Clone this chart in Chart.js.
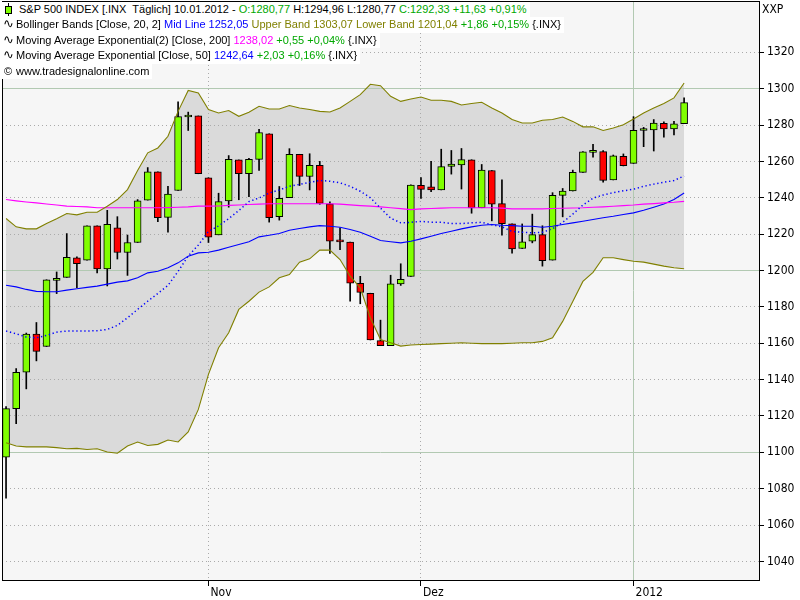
<!DOCTYPE html>
<html>
<head>
<meta charset="utf-8">
<script src="https://cdn.jsdelivr.net/npm/chart.js@4.4.1/dist/chart.umd.min.js"></script>
<style>
html,body{margin:0;padding:0;background:#fff;}
#wrap{position:relative;width:800px;height:600px;overflow:hidden;}
#c{position:absolute;left:0;top:0;background:#f6f6f6;}
#legend{position:absolute;left:2px;top:2px;font-family:"Liberation Sans",Arial,sans-serif;font-size:11px;color:#000;}
#legend .ln{position:relative;width:max-content;background:#fff;height:15.4px;line-height:15.4px;white-space:pre;padding-left:14px;padding-right:3px;}
#legend .ln.first{padding-left:17px;}
#legend .wave{position:absolute;left:1px;top:-1px;font-family:"DejaVu Sans",sans-serif;font-size:13px;}
#legend .copy{position:absolute;left:2px;top:0;}
#legend .wick{position:absolute;left:6px;top:1px;width:1px;height:13px;background:#000;}
#legend .body{position:absolute;left:3px;top:4px;width:5px;height:6px;background:#80ff00;border:1px solid #000;}
.g{color:#00a800;} .b{color:#0000ff;} .o{color:#808000;} .m{color:#ff00ff;}
#xxp{position:absolute;left:762px;top:2px;font-family:"Liberation Sans Narrow","DejaVu Sans Condensed",Arial,sans-serif;font-size:12px;color:#000;}
</style>
</head>
<body>
<div id="wrap">
<canvas id="c" width="800" height="600"></canvas>
<div id="legend">
<div class="ln first"><span class="wick"></span><span class="body"></span>S&amp;P 500 INDEX [.INX  Täglich] 10.01.2012 - <span class="g">O:1280,77</span> H:1294,96 L:1280,77 <span class="g">C:1292,33 +11,63 +0,91%</span></div>
<div class="ln"><span class="wave">∿</span>Bollinger Bands [Close, 20, 2] <span class="b">Mid Line 1252,05</span> <span class="o">Upper Band 1303,07 Lower Band 1201,04</span> <span class="g">+1,86 +0,15%</span> {.INX}</div>
<div class="ln"><span class="wave">∿</span>Moving Average Exponential(2) [Close, 200] <span class="m">1238,02</span> <span class="g">+0,55 +0,04%</span> {.INX}</div>
<div class="ln"><span class="wave">∿</span>Moving Average Exponential [Close, 50] <span class="b">1242,64</span> <span class="g">+2,03 +0,16%</span> {.INX}</div>
<div class="ln"><span class="copy">©</span>www.tradesignalonline.com</div>
</div>
<div id="xxp">XXP</div>
</div>
<script>
// ---- data ----
const dates = [
 "04.10.2011","05.10.2011","06.10.2011","07.10.2011","10.10.2011","11.10.2011","12.10.2011","13.10.2011","14.10.2011","17.10.2011",
 "18.10.2011","19.10.2011","20.10.2011","21.10.2011","24.10.2011","25.10.2011","26.10.2011","27.10.2011","28.10.2011","31.10.2011",
 "01.11.2011","02.11.2011","03.11.2011","04.11.2011","07.11.2011","08.11.2011","09.11.2011","10.11.2011","11.11.2011","14.11.2011",
 "15.11.2011","16.11.2011","17.11.2011","18.11.2011","21.11.2011","22.11.2011","23.11.2011","25.11.2011","28.11.2011","29.11.2011",
 "30.11.2011","01.12.2011","02.12.2011","05.12.2011","06.12.2011","07.12.2011","08.12.2011","09.12.2011","12.12.2011","13.12.2011",
 "14.12.2011","15.12.2011","16.12.2011","19.12.2011","20.12.2011","21.12.2011","22.12.2011","23.12.2011","27.12.2011","28.12.2011",
 "29.12.2011","30.12.2011","03.01.2012","04.01.2012","05.01.2012","06.01.2012","09.01.2012","10.01.2012"
];
const opens = [1097.4,1124.0,1144.1,1165.0,1158.2,1194.6,1196.2,1206.9,1205.7,1224.5,
 1200.8,1223.5,1209.9,1215.4,1238.7,1254.2,1229.2,1244.0,1284.4,1285.0,
 1251.0,1219.6,1238.2,1260.8,1253.2,1261.1,1275.2,1229.6,1240.1,1263.9,
 1251.7,1257.8,1236.6,1216.2,1215.6,1193.0,1187.5,1161.4,1158.7,1192.6,
 1196.7,1246.9,1246.0,1244.3,1257.2,1258.1,1260.9,1234.5,1255.0,1236.8,
 1225.7,1212.1,1216.1,1219.7,1205.7,1241.3,1243.7,1254.0,1265.0,1265.4,
 1249.8,1262.8,1258.9,1277.0,1277.3,1280.9,1277.8,1280.8];
const highs = [1125.1,1146.1,1165.6,1171.4,1194.9,1199.2,1220.3,1207.5,1224.6,1224.6,
 1233.1,1229.6,1219.5,1239.0,1256.6,1254.2,1246.3,1292.7,1287.1,1285.0,
 1251.0,1242.5,1263.2,1260.8,1261.7,1277.6,1275.2,1246.2,1267.0,1263.9,
 1264.2,1260.0,1237.7,1223.5,1215.6,1196.8,1187.5,1172.7,1197.4,1203.7,
 1247.1,1251.1,1260.1,1266.7,1266.0,1267.1,1260.9,1258.3,1255.0,1249.9,
 1225.7,1225.6,1231.0,1224.6,1242.8,1245.1,1255.2,1265.4,1269.4,1265.9,
 1263.5,1264.1,1284.6,1278.7,1283.0,1281.8,1282.0,1295.0];
const lows = [1074.8,1115.7,1134.9,1150.3,1158.2,1187.3,1196.2,1190.6,1205.7,1198.6,
 1191.5,1206.3,1197.3,1215.4,1238.7,1226.8,1221.1,1244.0,1277.0,1253.2,
 1215.4,1219.6,1234.8,1238.9,1240.6,1255.0,1226.6,1227.7,1240.1,1246.7,
 1244.3,1236.4,1209.4,1211.4,1183.2,1181.7,1161.8,1158.7,1158.7,1191.8,
 1196.7,1239.7,1243.4,1244.3,1253.0,1244.8,1231.5,1234.5,1227.3,1219.4,
 1209.5,1212.1,1215.2,1202.4,1205.7,1229.5,1243.7,1254.0,1262.3,1248.6,
 1249.8,1257.5,1258.9,1268.1,1265.7,1273.3,1274.6,1280.8];
const closes = [1124.0,1144.0,1165.0,1155.5,1194.9,1195.5,1207.3,1203.7,1224.6,1200.9,
 1225.4,1209.9,1215.4,1238.3,1254.2,1229.1,1242.0,1284.6,1285.1,1253.3,
 1218.3,1237.9,1261.2,1253.2,1261.1,1275.9,1229.1,1239.7,1263.9,1251.8,
 1257.8,1236.9,1216.1,1215.7,1193.0,1188.0,1161.8,1158.7,1192.6,1195.2,
 1247.0,1244.6,1244.3,1257.1,1258.5,1261.0,1234.4,1255.2,1236.5,1225.7,
 1211.8,1215.8,1219.7,1205.4,1241.3,1243.7,1254.0,1265.3,1265.4,1249.6,
 1263.0,1257.6,1277.1,1277.3,1281.1,1277.8,1280.7,1292.3];
const bbUpper = [1228.6,1224.0,1222.9,1222.9,1225.8,1228.4,1231.3,1230.6,1232.0,1232.0,
 1235.3,1239.0,1244.5,1255.0,1264.7,1267.4,1273.8,1287.5,1299.0,1297.6,
 1288.5,1286.6,1288.0,1284.8,1287.0,1290.3,1288.8,1288.8,1290.7,1289.4,
 1288.5,1287.5,1287.2,1289.4,1293.0,1296.7,1302.4,1301.6,1295.8,1293.0,
 1294.3,1295.4,1293.6,1293.6,1293.0,1291.0,1291.8,1292.5,1289.4,1286.6,
 1283.0,1281.1,1281.1,1282.6,1283.0,1284.4,1282.0,1279.0,1279.0,1277.0,
 1278.4,1280.2,1283.3,1286.6,1289.4,1291.8,1294.9,1303.1];
const bbLower = [1105.3,1103.5,1103.0,1103.0,1103.0,1102.6,1102.0,1102.2,1101.6,1102.0,
 1100.2,1099.5,1103.5,1105.7,1103.8,1104.4,1106.8,1105.7,1111.2,1123.6,
 1142.9,1157.5,1165.8,1178.6,1183.1,1188.1,1191.0,1196.0,1197.8,1204.6,
 1206.4,1211.2,1211.2,1206.0,1196.9,1190.5,1174.0,1162.0,1160.3,1158.4,
 1159.0,1159.3,1159.5,1159.8,1160.0,1160.3,1160.0,1159.8,1159.8,1159.8,
 1160.0,1160.3,1160.3,1161.0,1163.0,1172.0,1183.0,1194.0,1199.0,1207.0,
 1207.0,1206.0,1205.1,1204.6,1203.5,1202.4,1201.5,1201.0];
const bbMid = [1166.7,1165.2,1163.4,1163.0,1164.3,1166.1,1166.7,1166.7,1166.7,1166.9,
 1167.6,1169.8,1174.0,1178.6,1183.1,1187.4,1191.8,1199.5,1208.0,1214.0,
 1221.5,1224.5,1228.5,1233.0,1237.9,1239.9,1242.6,1244.3,1246.3,1247.3,
 1248.5,1249.5,1249.1,1248.2,1246.3,1243.6,1240.0,1234.3,1228.8,1226.2,
 1226.5,1227.0,1226.6,1226.6,1225.8,1225.8,1226.2,1226.5,1225.2,1224.0,
 1221.5,1221.0,1220.7,1221.0,1223.0,1226.5,1231.0,1236.0,1239.8,1241.5,
 1242.8,1243.8,1244.7,1246.3,1247.5,1248.5,1249.5,1252.0];
const ema200 = [1239.0,1238.3,1237.7,1237.2,1236.6,1236.0,1235.4,1235.2,1235.0,1234.5,
 1234.5,1234.5,1234.5,1234.5,1234.5,1234.5,1234.6,1234.8,1235.0,1235.4,
 1235.4,1235.5,1235.8,1236.0,1236.3,1236.5,1236.7,1236.7,1236.7,1236.7,
 1236.7,1236.7,1236.7,1236.5,1236.1,1235.7,1235.4,1235.0,1234.5,1234.0,
 1233.5,1233.9,1234.1,1234.3,1234.5,1234.5,1234.5,1234.5,1234.5,1234.3,
 1233.9,1233.9,1233.9,1233.9,1234.1,1234.2,1234.4,1234.5,1234.8,1235.0,
 1235.3,1235.7,1236.0,1236.5,1236.8,1237.2,1237.5,1238.0];
const ema50 = [1191.9,1191.0,1189.6,1188.5,1188.3,1188.3,1189.2,1190.0,1190.7,1191.4,
 1192.5,1193.6,1194.3,1196.0,1198.7,1199.6,1201.5,1204.2,1207.9,1209.7,
 1210.0,1211.2,1212.8,1214.3,1215.8,1218.5,1219.4,1220.3,1222.1,1223.1,
 1224.0,1224.7,1224.3,1223.8,1222.5,1221.0,1218.8,1216.5,1215.8,1215.2,
 1216.1,1217.4,1218.8,1220.3,1221.6,1222.9,1224.0,1224.9,1225.3,1224.9,
 1224.7,1224.3,1224.3,1223.8,1224.3,1225.3,1226.2,1227.1,1228.0,1229.0,
 1229.8,1230.8,1231.7,1233.1,1234.8,1236.6,1239.0,1242.6];
const yTicks = [1040,1060,1080,1100,1120,1140,1160,1180,1200,1220,1240,1260,1280,1300,1320];
const yMajor = [1100,1200,1300];
const monthTickIdx = [20,41,62];
const monthLabels = ["Nov","Dez","2012"];
const yearTickIdx = 62;

// ---- chart ----
const pts = arr => arr.map((v,i)=>({x:i,y:v}));
const bodies = opens.map((o,i)=>({x:i,y:[o,closes[i]]}));
const wicks = lows.map((l,i)=>({x:i,y:[l,highs[i]]}));
const tickFont = {family:'"Liberation Sans Narrow","DejaVu Sans Condensed",Arial,sans-serif', size:12};
const gridGreen = '#b2c9b2', gridDot = '#aaaaaa';

const outsideWhite = {
  id:'outsideWhite',
  beforeDraw(chart){
    const {ctx, chartArea:a, width, height} = chart;
    ctx.save(); ctx.fillStyle = '#fff';
    ctx.fillRect(a.right,0,width-a.right,height);
    ctx.fillRect(0,a.bottom,width,height-a.bottom);
    ctx.fillRect(0,0,a.left,height);
    ctx.fillRect(0,0,width,a.top);
    ctx.restore();
  }
};
const noPad = s => { s.paddingTop = 0; s.paddingBottom = 0; s.paddingLeft = 0; s.paddingRight = 0; };
const lineDs = (label,data,color,extra) => Object.assign({type:'line',label,data:pts(data),borderColor:color,borderWidth:1.1,pointRadius:0,fill:false,tension:0,order:0},extra||{});

new Chart(document.getElementById('c'), {
  type:'line',
  data:{datasets:[
    lineDs('Upper Band', bbUpper, '#808000', {fill:'+1', backgroundColor:'#dadada'}),
    lineDs('Lower Band', bbLower, '#808000'),
    lineDs('Mid Line', bbMid, '#0000ff', {borderWidth:1.5, borderDash:[1.3,2.7]}),
    lineDs('EMA 200', ema200, '#ff00ff'),
    lineDs('EMA 50', ema50, '#0000ff'),
    {type:'bar', label:'body', data:bodies,
     backgroundColor: c => closes[c.dataIndex] >= opens[c.dataIndex] ? '#80ff00' : '#ff0000',
     borderColor:'#000', borderWidth:1, borderSkipped:false, barThickness:7, grouped:false, minBarLength:2, order:1},
    {type:'bar', label:'wick', data:wicks, backgroundColor:'#000', borderWidth:0, barThickness:1, grouped:false, order:2}
  ]},
  options:{
    responsive:false, animation:false, events:[],
    layout:{padding:0},
    plugins:{legend:{display:false}, tooltip:{enabled:false}, filler:{drawTime:'beforeDraw', propagate:false}},
    scales:{
      x:{type:'linear', position:'bottom', min:-0.4, max:74.4, offset:false,
        afterBuildTicks: s => { s.ticks = monthTickIdx.map(v=>({value:v})); },
        afterFit: s => { s.height = 20; noPad(s); },
        ticks:{autoSkip:false, maxRotation:0, align:'start', padding:0, labelOffset:2, font:tickFont, color:'#000',
          callback: v => monthLabels[monthTickIdx.indexOf(v)]},
        grid:{offset:false, lineWidth:1, color: c => (c.tick && c.tick.value===yearTickIdx) ? gridGreen : gridDot,
          drawTicks:true, tickLength:6, tickColor:'#000', tickWidth:1},
        border:{display:true, color:'#000', width:1, dash: c => (c.tick && c.tick.value===yearTickIdx) ? [] : [1,3]}
      },
      xT:{type:'linear', position:'top', min:0, max:1, afterFit: s => { s.height = 1; noPad(s); },
        ticks:{display:false}, grid:{display:false, drawTicks:false}, border:{display:true, color:'#000', width:1}},
      y:{type:'linear', position:'right', min:1029.8, max:1348.2,
        afterBuildTicks: s => { s.ticks = yTicks.map(v=>({value:v})); },
        afterFit: s => { s.width = 41; noPad(s); },
        ticks:{padding:3, font:tickFont, color:'#000', callback: v => String(v)},
        grid:{lineWidth:1, color: c => (c.tick && yMajor.includes(c.tick.value)) ? gridGreen : gridDot,
          drawTicks:true, tickLength:5, tickColor:'#000', tickWidth:1},
        border:{display:true, color:'#000', width:1, dash: c => (c.tick && yMajor.includes(c.tick.value)) ? [] : [1,3]}
      },
      yL:{type:'linear', position:'left', min:0, max:1, afterFit: s => { s.width = 2; noPad(s); },
        ticks:{display:false}, grid:{display:false, drawTicks:false}, border:{display:true, color:'#000', width:1}}
    }
  },
  plugins:[outsideWhite]
});
</script>
</body>
</html>
